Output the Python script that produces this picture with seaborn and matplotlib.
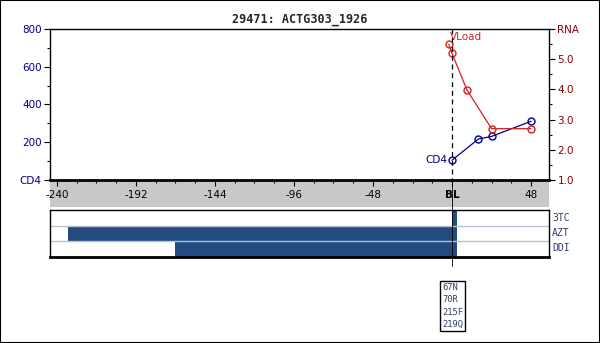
import numpy as np
import pandas as pd
import matplotlib
matplotlib.use("Agg")
import matplotlib.pyplot as plt
from matplotlib.lines import Line2D
from matplotlib.patches import Rectangle
import seaborn as sns

# ---- data ----
title = "29471: ACTG303_1926"
cd4_weeks = [0, 16, 24, 48]
cd4_values = [105, 217, 231, 311]
rna_weeks = [-2, 0, 9, 24, 48]
rna_values = [5.49, 5.19, 3.99, 2.70, 2.70]
drugs = ["3TC", "AZT", "DDI"]
drug_start = [0, -233, -168]
drug_stop = [3, 3, 3]
mutations = ["67N", "70R", "215F", "219Q"]
xticks = [-240, -192, -144, -96, -48, 0, 48]
xticklabels = ["-240", "-192", "-144", "-96", "-48", "BL", "48"]

sns.set_theme(style="white")
plt.rcParams['font.family'] = ['DejaVu Sans']

W, H = 600, 343
fig = plt.figure(figsize=(6, 3.43), dpi=100)

def fx(px):
    return px / W

def fy(py):
    return 1 - py / H

xmin, xmax = -244.2, 58.9
navy = "#00008b"
red = "#d42020"
darkred = "#8b0000"
barblue = "#234b80"

# gray band
fig.patches.append(Rectangle((fx(50), fy(207)), fx(499), 27 / H,
                             transform=fig.transFigure, facecolor="#c8c8c8",
                             edgecolor="none", zorder=-5))

ax = fig.add_axes([fx(50), fy(180), fx(499), 151 / H])
ax.set_facecolor("white")
df_cd4 = pd.DataFrame({"week": cd4_weeks, "cd4": cd4_values})
sns.lineplot(data=df_cd4, x="week", y="cd4", ax=ax, color=navy, lw=0.9,
             marker="o", markersize=5, markerfacecolor="none",
             markeredgecolor=navy, markeredgewidth=1.0)
ax.set_xlim(xmin, xmax)
ax.set_ylim(0, 800)
ax.set_xlabel("")
ax.set_ylabel("")
ax.set_yticks([0, 200, 400, 600, 800])
ax.set_yticklabels(["CD4", "200", "400", "600", "800"], color=navy, fontsize=7.5)
ax.set_yticks(np.arange(100, 800, 200), minor=True)
ax.set_xticks(xticks)
ax.set_xticklabels(xticklabels, fontsize=7.5, color="black")
for lab in ax.get_xticklabels():
    if lab.get_text() == "BL":
        lab.set_fontweight("bold")
ax.set_xticks(np.arange(-240, 58, 12), minor=True)
ax.tick_params(axis="x", which="major", direction="out", length=4, width=0.8,
               color="black", pad=3, bottom=True, labelbottom=True)
ax.tick_params(axis="x", which="minor", direction="out", length=2.5, width=0.8,
               color="black", bottom=True)
ax.tick_params(axis="y", which="major", direction="out", length=4, width=0.8,
               color="black", pad=2, left=True)
ax.tick_params(axis="y", which="minor", direction="out", length=2.5, width=0.8,
               color="black", left=True)
for s in ["top", "left", "right"]:
    ax.spines[s].set_color("black")
    ax.spines[s].set_linewidth(1.0)
ax.spines["bottom"].set_color("black")
ax.spines["bottom"].set_linewidth(2.0)
ax.text(-3, 105, "CD4", color=navy, fontsize=7.5, ha="right", va="center")

ax2 = ax.twinx()
df_rna = pd.DataFrame({"week": rna_weeks, "rna": rna_values})
sns.lineplot(data=df_rna, x="week", y="rna", ax=ax2, color=red, lw=0.9,
             marker="o", markersize=5, markerfacecolor="none",
             markeredgecolor=red, markeredgewidth=1.0, sort=False)
ax2.set_ylim(1.0, 6.0)
ax2.set_ylabel("")
ax2.set_xlim(xmin, xmax)
ax2.set_yticks([1, 2, 3, 4, 5, 6])
ax2.set_yticklabels(["1.0", "2.0", "3.0", "4.0", "5.0", "RNA"], color=darkred, fontsize=7.5)
ax2.set_yticks(np.arange(1.5, 6.0, 1.0), minor=True)
ax2.tick_params(axis="y", which="major", direction="out", length=4, width=0.8,
                color="black", pad=2, right=True)
ax2.tick_params(axis="y", which="minor", direction="out", length=2.5, width=0.8,
                color="black", right=True)
for s in ax2.spines.values():
    s.set_visible(False)
ax2.text(-1.5, 5.72, "VLoad", color=red, fontsize=7.5, ha="left", va="center")

# treatment panel
axb = fig.add_axes([fx(50), fy(257), fx(499), 47 / H])
axb.set_xlim(xmin, xmax)
axb.set_ylim(len(drugs), 0)
for i, (d, s0, s1) in enumerate(zip(drugs, drug_start, drug_stop)):
    axb.barh(i + 0.5, s1 - s0, left=s0, height=1.0, color=barblue, edgecolor="none")
for yline in [1, 2]:
    axb.axhline(yline, color="#b4c2d4", lw=1.0)
axb.set_xticks([])
axb.set_yticks([])
for s in ["top", "left", "right"]:
    axb.spines[s].set_color("black")
    axb.spines[s].set_linewidth(1.0)
axb.spines["bottom"].set_color("black")
axb.spines["bottom"].set_linewidth(2.0)
for i, d in enumerate(drugs):
    fig.text(fx(552), fy(210 + 15 * i + 8), d, fontsize=7, color="#2a3f6a",
             ha="left", va="center", family="DejaVu Sans Mono")

# baseline dashed line
fig.add_artist(Line2D([fx(452), fx(452)], [fy(29), fy(180)], transform=fig.transFigure,
                      color="black", lw=0.9, ls=(0, (4, 3)), zorder=5))
fig.add_artist(Line2D([fx(452), fx(452)], [fy(180), fy(266)], transform=fig.transFigure,
                      color="black", lw=0.6, zorder=5))

# mutations box
fig.text(fx(442), fy(306), "\n".join(mutations), fontsize=6.3, color="#2a3f6a",
         family="DejaVu Sans Mono", ha="left", va="center", linespacing=1.45,
         bbox=dict(boxstyle="square,pad=0.25", facecolor="white", edgecolor="black", lw=1.0))

fig.text(0.5, fy(20), title, ha="center", va="center", fontsize=8.5,
         fontweight="bold", family="DejaVu Sans Mono")

# outer border
fig.patches.append(Rectangle((0, 0), 1, 1, transform=fig.transFigure, facecolor="none",
                             edgecolor="black", lw=1.5, zorder=10))

fig.savefig("out.png", dpi=100, facecolor="white")
